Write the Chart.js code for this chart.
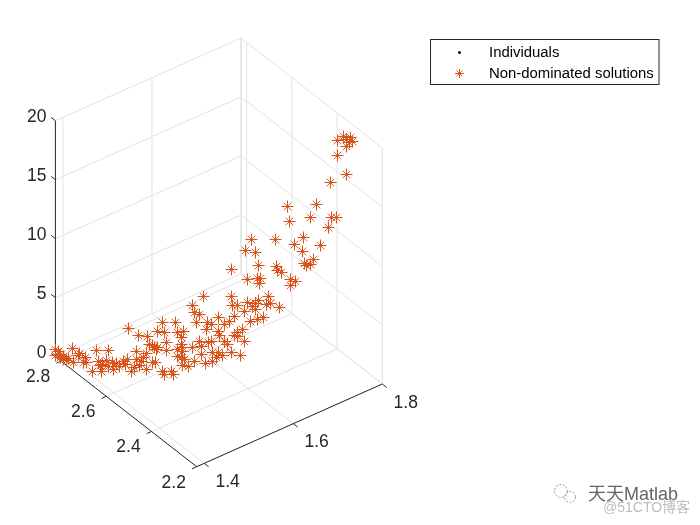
<!DOCTYPE html>
<html>
<head>
<meta charset="utf-8">
<title>Pareto front</title>
<script src="https://cdn.jsdelivr.net/npm/chart.js@4"></script>
<style>
html, body { margin: 0; padding: 0; background: #fff; }
canvas { display: block; }
</style>
</head>
<body>
<canvas id="myChart" width="700" height="525"></canvas>
<script>
var xTicks = [1.4, 1.6, 1.8];
var yTicks = [2.2, 2.4, 2.6, 2.8];
var zTicks = [0, 5, 10, 15, 20];
var seriesNames = ['Individuals', 'Non-dominated solutions'];

var xVals = [1.383,1.383,1.385,1.386,1.386,1.388,1.388,1.390,1.391,1.393,1.394,1.397,1.398,1.400,1.402,1.401,1.406,1.408,1.409,
  1.413,1.411,1.414,1.419,1.422,1.423,1.428,1.430,1.435,1.439,1.444,1.447,1.451,1.452,1.457,1.461,1.464,1.464,1.467,1.468,1.471,
  1.474,1.479,1.479,1.480,1.483,1.487,1.487,1.490,1.492,1.493,1.495,1.495,1.502,1.502,1.504,1.505,1.508,1.508,1.515,1.518,
  1.521,1.524,1.524,1.524,1.530,1.530,1.530,1.533,1.531,1.531,1.534,1.531,1.540,1.546,1.549,1.546,1.549,1.552,1.556,1.556,
  1.559,1.559,1.562,1.565,1.566,1.568,1.574,1.569,1.574,1.575,1.575,1.580,1.583,1.583,1.584,1.585,1.590,1.593,1.593,1.597,
  1.600,1.602,1.602,1.602,1.604,1.607,1.607,1.612,1.612,1.612,1.616,1.619,1.621,1.622,1.626,1.631,1.623,1.626,1.632,1.637,
  1.637,1.634,1.637,1.641,1.642,1.641,1.642,1.644,1.645,1.650,1.654,1.656,1.660,1.667,1.669,1.670,1.676,1.673,1.685,1.688,
  1.689,1.689,1.695,1.697,1.707,1.708,1.710,1.713,1.718,1.718,1.723,1.727,1.733,1.745,1.748,1.749,1.756,1.758,1.758,1.767,
  1.771,1.771,1.771,1.776,1.777,1.780];

var yVals = [2.823,2.823,2.817,2.810,2.807,2.800,2.797,2.788,2.781,2.771,2.765,2.752,2.746,2.736,2.723,2.729,2.704,2.691,2.687,
  2.678,2.679,2.676,2.672,2.669,2.667,2.663,2.659,2.655,2.650,2.646,2.643,2.638,2.636,2.632,2.627,2.624,2.624,2.621,2.619,2.616,
  2.613,2.609,2.609,2.607,2.604,2.599,2.599,2.596,2.595,2.593,2.592,2.592,2.584,2.584,2.582,2.581,2.578,2.578,2.570,2.567,
  2.564,2.561,2.561,2.561,2.555,2.555,2.555,2.552,2.553,2.553,2.550,2.553,2.544,2.538,2.535,2.538,2.535,2.532,2.527,2.527,
  2.524,2.524,2.521,2.518,2.516,2.515,2.509,2.513,2.509,2.507,2.507,2.502,2.499,2.499,2.498,2.496,2.492,2.489,2.489,2.484,
  2.481,2.479,2.479,2.479,2.476,2.473,2.473,2.469,2.469,2.469,2.464,2.461,2.459,2.458,2.453,2.449,2.456,2.453,2.447,2.442,
  2.442,2.446,2.442,2.438,2.436,2.438,2.436,2.435,2.433,2.429,2.424,2.422,2.418,2.410,2.409,2.407,2.401,2.404,2.392,2.389,
  2.387,2.387,2.381,2.379,2.369,2.367,2.365,2.362,2.356,2.356,2.352,2.347,2.341,2.329,2.325,2.324,2.316,2.315,2.315,2.305,
  2.301,2.301,2.301,2.296,2.295,2.292];

var zVals = [0.68,0.17,0.50,0.07,0.44,0.01,0.39,0.08,0.41,1.37,0.26,0.92,1.17,0.52,0.67,1.02,0.14,2.07,1.18,
  0.41,0.92,1.08,1.33,0.81,2.25,1.15,0.64,1.06,0.80,1.22,0.96,1.38,4.08,0.36,0.69,2.04,1.36,3.40,0.93,1.19,
  1.53,1.86,0.50,3.30,2.62,2.61,1.17,2.36,1.08,2.18,3.70,2.35,4.46,0.31,3.61,0.05,2.75,2.08,0.29,0.03,
  4.44,3.58,2.14,1.55,3.15,2.56,1.46,3.66,2.39,1.97,1.29,0.86,0.69,5.85,5.25,2.29,1.10,4.41,5.08,2.79,
  2.36,1.69,6.59,0.92,3.88,4.38,4.21,2.69,2.77,1.84,1.08,1.41,1.83,3.61,4.79,3.35,1.57,4.19,2.75,2.49,
  4.43,6.55,1.81,8.84,5.87,4.85,3.32,5.78,3.49,3.15,1.53,3.74,2.71,5.25,6.02,4.40,10.51,7.97,11.35,10.25,
  5.92,5.67,5.42,4.56,9.14,8.03,6.17,7.61,8.03,4.72,5.81,6.49,5.89,11.31,9.02,8.68,8.50,5.54,14.08,12.81,
  7.90,7.39,10.86,7.72,10.25,11.43,9.23,9.06,9.14,13.20,9.55,14.21,10.73,12.24,16.05,13.08,13.08,19.60,18.33,19.93,
  19.67,19.08,16.70,19.42,19.83,19.49];

// axis limits of the 3d box
var xLim = [1.383, 1.8];
var yLim = [2.2, 2.825];
var zLim = [0, 20];

var axisColor = '#262626';
var gridColor = '#e2e2e2';
var starColor = '#D95319';
var tickFont = '17.5px "Liberation Sans", Arial, sans-serif';

// 3d -> picture plane of the hidden scales
function project(x, y, z) {
  var a = (x - xLim[0]) / (xLim[1] - xLim[0]);
  var b = (y - yLim[0]) / (yLim[1] - yLim[0]);
  var c = (z - zLim[0]) / (zLim[1] - zLim[0]);
  return {
    x: 196.7 + 185.6 * a - 141.3 * b,
    y: 466.7 - 82.7 * a - 110 * b - 236 * c
  };
}

var points = xVals.map(function (v, i) { return project(v, yVals[i], zVals[i]); });

// matlab style asterisk: long straight arms, short thin diagonals
function makeStar(r, d, w) {
  var c = document.createElement('canvas');
  c.width = c.height = 2 * Math.ceil(r) + 3;
  var m = c.width / 2, g = c.getContext('2d');
  g.strokeStyle = starColor;
  g.lineWidth = w;
  g.beginPath();
  g.moveTo(m - r, m); g.lineTo(m + r, m);
  g.moveTo(m, m - r); g.lineTo(m, m + r);
  g.stroke();
  g.lineWidth = w - 0.1;
  g.beginPath();
  g.moveTo(m - d, m - d); g.lineTo(m + d, m + d);
  g.moveTo(m - d, m + d); g.lineTo(m + d, m - d);
  g.stroke();
  return c;
}
var starMark = makeStar(6, 3.8, 1);
var legendMark = makeStar(4.5, 3, 1);

function line3(chart, from, to, color) {
  var ctx = chart.ctx, sx = chart.scales.x, sy = chart.scales.y;
  var p = project(from[0], from[1], from[2]), q = project(to[0], to[1], to[2]);
  ctx.strokeStyle = color;
  ctx.lineWidth = 1;
  ctx.beginPath();
  ctx.moveTo(sx.getPixelForValue(p.x), sy.getPixelForValue(p.y));
  ctx.lineTo(sx.getPixelForValue(q.x), sy.getPixelForValue(q.y));
  ctx.stroke();
}

function label3(chart, text, pos, dx, dy) {
  var ctx = chart.ctx;
  var p = project(pos[0], pos[1], pos[2]);
  ctx.fillText(text, chart.scales.x.getPixelForValue(p.x) + dx, chart.scales.y.getPixelForValue(p.y) + dy);
}

var box3d = {
  id: 'box3d',
  beforeDatasetsDraw: function (chart) {
    var ctx = chart.ctx;
    ctx.save();
    xTicks.forEach(function (x) {
      line3(chart, [x, yLim[0], 0], [x, yLim[1], 0], gridColor);
      line3(chart, [x, yLim[1], 0], [x, yLim[1], 20], gridColor);
    });
    yTicks.forEach(function (y) {
      line3(chart, [xLim[0], y, 0], [xLim[1], y, 0], gridColor);
      line3(chart, [xLim[1], y, 0], [xLim[1], y, 20], gridColor);
    });
    zTicks.forEach(function (z) {
      line3(chart, [xLim[0], yLim[1], z], [xLim[1], yLim[1], z], gridColor);
      line3(chart, [xLim[1], yLim[1], z], [xLim[1], yLim[0], z], gridColor);
    });
    line3(chart, [xLim[1], yLim[1], 0], [xLim[1], yLim[1], 20], gridColor);

    // dark axis lines
    line3(chart, [xLim[0], yLim[1], 0], [xLim[0], yLim[1], 20], axisColor);
    line3(chart, [xLim[0], yLim[1], 0], [xLim[0], yLim[0], 0], axisColor);
    line3(chart, [xLim[0], yLim[0], 0], [xLim[1], yLim[0], 0], axisColor);

    xTicks.forEach(function (x) { line3(chart, [x, yLim[0], 0], [x, yLim[0] - 0.019, 0], axisColor); });
    yTicks.forEach(function (y) { line3(chart, [xLim[0], y, 0], [xLim[0] - 0.0105, y, 0], axisColor); });
    zTicks.forEach(function (z) { line3(chart, [xLim[0], yLim[1], z], [xLim[0], yLim[1] + 0.019, z], axisColor); });

    ctx.fillStyle = axisColor;
    ctx.font = tickFont;
    ctx.textBaseline = 'middle';
    ctx.textAlign = 'center';
    xTicks.forEach(function (x) { label3(chart, x.toFixed(1), [x, yLim[0], 0], 23.4, 19); });
    yTicks.forEach(function (y) { label3(chart, y.toFixed(1), [xLim[0], y, 0], -23, 16); });
    ctx.textAlign = 'right';
    zTicks.forEach(function (z) { label3(chart, String(z), [xLim[0], yLim[1], z], -9, -4); });
    ctx.restore();
    // keep the star images crisp
    ctx.imageSmoothingEnabled = false;
  }
};

var legendBox = {
  id: 'legendBox',
  afterDraw: function (chart) {
    var ctx = chart.ctx;
    ctx.save();
    ctx.fillStyle = '#fff';
    ctx.fillRect(430.5, 39.5, 228.5, 45);
    ctx.strokeStyle = axisColor;
    ctx.lineWidth = 1;
    ctx.strokeRect(430.5, 39.5, 228.5, 45);
    ctx.fillStyle = '#000';
    ctx.beginPath();
    ctx.arc(459.5, 52.5, 1.5, 0, Math.PI * 2);
    ctx.fill();
    ctx.drawImage(legendMark, 459.5 - legendMark.width / 2, 73.5 - legendMark.height / 2);
    ctx.fillStyle = '#000';
    ctx.font = '14.9px "Liberation Sans", Arial, sans-serif';
    ctx.textAlign = 'left';
    ctx.textBaseline = 'middle';
    ctx.fillText(seriesNames[0], 489, 53);
    ctx.fillText(seriesNames[1], 489, 73.5);

    // watermark
    ctx.lineWidth = 1;
    ctx.strokeStyle = '#9a9a9a';
    ctx.setLineDash([2, 1.5]);
    ctx.beginPath();
    ctx.arc(561, 491, 6.5, 0, Math.PI * 2);
    ctx.stroke();
    ctx.beginPath();
    ctx.arc(570, 497, 5.5, 0, Math.PI * 2);
    ctx.stroke();
    ctx.setLineDash([]);
    ctx.fillStyle = '#666';
    ctx.font = '18px "Liberation Sans", "Noto Sans CJK SC", sans-serif';
    ctx.fillText('天天Matlab', 588, 495.5);
    ctx.fillStyle = '#bdbdbd';
    ctx.font = '14px "Liberation Sans", "Noto Sans CJK SC", sans-serif';
    ctx.fillText('@51CTO博客', 603, 508.5);
    ctx.restore();
  }
};

var ctx = document.getElementById('myChart').getContext('2d');
var myChart = new Chart(ctx, {
  type: 'scatter',
  data: {
    datasets: [{
      label: seriesNames[0],
      data: points,
      order: 2,
      pointStyle: 'circle',
      pointRadius: 0.5,
      borderWidth: 0,
      backgroundColor: '#7a2a10',
      borderColor: '#7a2a10'
    }, {
      label: seriesNames[1],
      data: points,
      order: 1,
      pointStyle: starMark,
      backgroundColor: starColor,
      borderColor: starColor
    }]
  },
  options: {
    responsive: false,
    animation: false,
    layout: { padding: 0, autoPadding: false },
    plugins: { legend: { display: false }, tooltip: { enabled: false } },
    scales: {
      x: { type: 'linear', display: false, min: 0, max: 700 },
      y: { type: 'linear', display: false, min: 0, max: 525, reverse: true }
    }
  },
  plugins: [box3d, legendBox]
});
</script>
</body>
</html>
